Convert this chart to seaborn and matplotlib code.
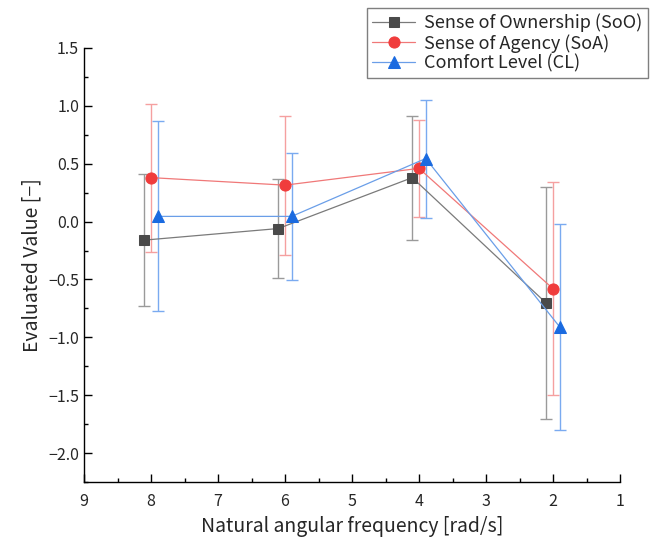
import matplotlib
matplotlib.use("Agg")
import matplotlib.pyplot as plt
import seaborn as sns
import numpy as np
import pandas as pd
from matplotlib.ticker import MultipleLocator

# Data
x_soo = [8.1, 6.1, 4.1, 2.1]
x_soa = [8.0, 6.0, 4.0, 2.0]
x_cl = [7.9, 5.9, 3.9, 1.9]
soo = [-0.16, -0.06, 0.38, -0.705]
soo_err = [0.57, 0.43, 0.535, 1.00]
soa = [0.38, 0.315, 0.46, -0.58]
soa_err = [0.64, 0.60, 0.42, 0.92]
cl = [0.045, 0.045, 0.545, -0.91]
cl_err = [0.82, 0.55, 0.51, 0.89]

labels = ["Sense of Ownership (SoO)", "Sense of Agency (SoA)", "Comfort Level (CL)"]

sns.set_style("ticks")
plt.rcParams['font.family'] = ['Noto Sans CJK JP', 'DejaVu Sans']
plt.rcParams['axes.unicode_minus'] = True

fig = plt.figure(figsize=(6.52, 5.42), dpi=100)
ax = fig.add_axes([84/652, 60/542, (620-84)/652, (482-48)/542])

series = [
    (x_soo, soo, soo_err, labels[0], "s", 7, "#4a4a4a", "#7a7a7a", "#9a9a9a"),
    (x_soa, soa, soa_err, labels[1], "o", 8, "#f03c3c", "#f07878", "#f5a0a0"),
    (x_cl, cl, cl_err, labels[2], "^", 8, "#1a6ae0", "#6a9ee8", "#7aaaf0"),
]

for xs, ys, es, lab, mk, ms, mc, lc, ec in series:
    ax.errorbar(xs, ys, yerr=es, fmt="none", ecolor=ec, elinewidth=1.0,
                capsize=4, capthick=1.0, zorder=2)
    df = pd.DataFrame({"x": xs, "y": ys})
    sns.lineplot(data=df, x="x", y="y", ax=ax, color=lc, linewidth=0.9,
                 marker=mk, markersize=ms,
                 markerfacecolor=mc, markeredgecolor=mc, label=lab,
                 sort=False, zorder=3)

ax.set_xlim(9, 1)
ax.set_ylim(-2.25, 1.5)
ax.xaxis.set_major_locator(MultipleLocator(1))
ax.xaxis.set_minor_locator(MultipleLocator(0.5))
ax.yaxis.set_minor_locator(MultipleLocator(0.25))
ax.set_yticks([-2.0, -1.5, -1.0, -0.5, 0.0, 0.5, 1.0, 1.5])
ax.set_yticklabels(["\u22122.0", "\u22121.5", "\u22121.0", "\u22120.5", "0.0", "0.5", "1.0", "1.5"])
ax.set_xticks([9, 8, 7, 6, 5, 4, 3, 2, 1])
ax.set_xticklabels(["9", "8", "7", "6", "5", "4", "3", "2", "1"])

ax.tick_params(axis="both", which="major", direction="in", length=6, width=1, labelsize=11.5, color="black")
ax.tick_params(axis="both", which="minor", direction="in", length=3, width=1, color="black")
ax.tick_params(axis="x", pad=8)
for s in ["top", "right"]:
    ax.spines[s].set_visible(False)
for s in ["left", "bottom"]:
    ax.spines[s].set_color("black")
    ax.spines[s].set_linewidth(1.0)

ax.set_xlabel("Natural angular frequency [rad/s]", fontsize=14)
ax.set_ylabel("Evaluated Value [\u2212]", fontsize=14)

leg = ax.legend(loc="upper right", bbox_to_anchor=(648/652, 1 - 8/542),
                bbox_transform=fig.transFigure, fontsize=13, frameon=True,
                fancybox=False, edgecolor="#7f7f7f", framealpha=1,
                handlelength=2.4, borderpad=0.3, labelspacing=0.1,
                handletextpad=0.5, borderaxespad=0)
leg.get_frame().set_linewidth(1.0)

fig.savefig("out.png", dpi=100)
